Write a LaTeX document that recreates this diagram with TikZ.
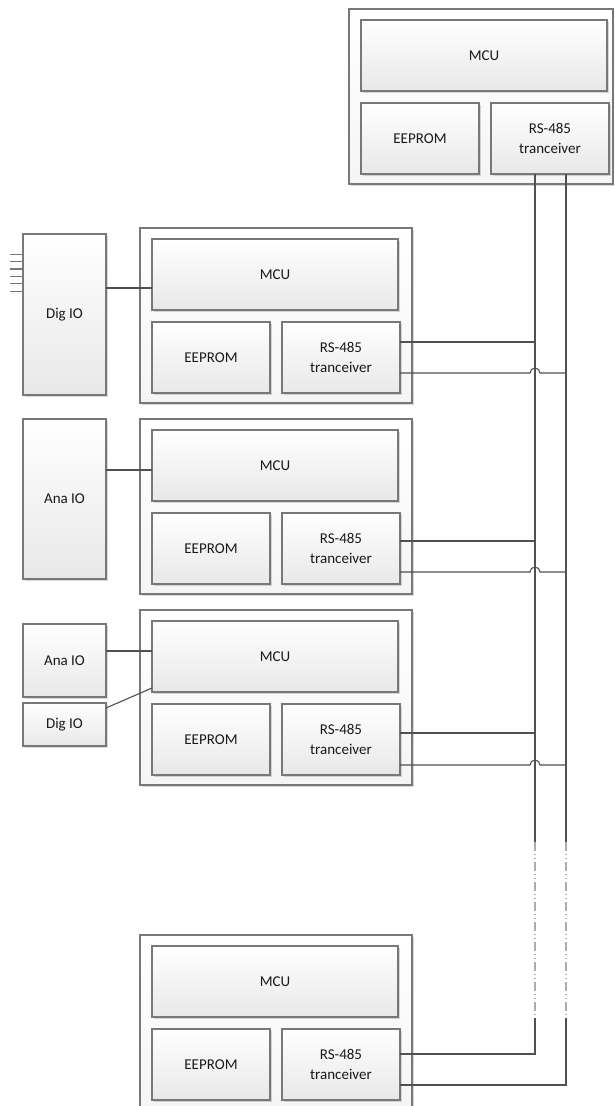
\documentclass[tikz,border=0pt]{standalone}
\usepackage{fontspec}
\setmainfont{Carlito}
\usetikzlibrary{shadows,calc}
\definecolor{boxline}{RGB}{120,120,120}
\definecolor{wirec}{RGB}{80,80,80}
\definecolor{txt}{RGB}{25,25,25}
\tikzset{
  blk/.style={draw=boxline, line width=1.2pt, rectangle, top color=white, bottom color=gray!18,
    drop shadow={shadow xshift=1.5pt, shadow yshift=-1.5pt, opacity=.3},
    anchor=north west, inner sep=0pt, outer sep=0pt, font=\fontsize{15}{19.5}\selectfont, text=txt, align=center},
  frm/.style={draw=boxline, line width=1.1pt, rectangle, top color=white, bottom color=gray!8,
    drop shadow={shadow xshift=1.5pt, shadow yshift=-1.5pt, opacity=.3},
    anchor=north west, inner sep=0pt, outer sep=0pt},
  wire/.style={draw=wirec, line width=1.1pt},
  pin/.style={draw=boxline, line width=1.1pt},
  dashwire/.style={draw=gray!65, line width=1.1pt, dash pattern=on 9pt off 3pt on 1pt off 3pt on 1pt off 3pt},
}
\newcommand\drawmodule[4]{%
  \node[frm, minimum width=#4, minimum height=175] (out#1) at (#2,#3) {};
  \node[blk, minimum width=246, minimum height=71] (mcu#1) at (#2+12,#3+11) {MCU};
  \node[blk, minimum width=118, minimum height=71] (ee#1) at (#2+12,#3+94) {EEPROM};
  \node[blk, minimum width=118, minimum height=71] (rs#1) at (#2+142,#3+94) {RS-485\\tranceiver};
}
\begin{document}
\begin{tikzpicture}[x=1pt,y=-1pt]
\useasboundingbox (0,0) rectangle (614,1106);
\clip (0,0) rectangle (614,1106);
\fill[white] (0,0) rectangle (614,1106);

% modules
\drawmodule{1}{349}{9}{264}
\drawmodule{2}{140}{228}{272}
\drawmodule{3}{140}{419}{272}
\drawmodule{4}{140}{610}{272}
\drawmodule{5}{140}{935}{272}

% side boxes
\node[blk, minimum width=83, minimum height=161] (dig2) at (23,234) {Dig IO};
\node[blk, minimum width=83, minimum height=160] (ana3) at (23,419) {Ana IO};
\node[blk, minimum width=83, minimum height=73] (ana4) at (23,624) {Ana IO};
\node[blk, minimum width=83, minimum height=43] (dig4) at (23,703) {Dig IO};

% pins of Dig IO
\foreach \k in {0,...,5}
  \draw[pin] ($(dig2.north west)+(0,20.3+7.35*\k)$) -- ++(-13,0);

% side connections
\draw[wire] (dig2.east |- 0,288) -- (mcu2.west |- 0,288);
\draw[wire] (ana3.east |- 0,470) -- (mcu3.west |- 0,470);
\draw[wire] (ana4.east |- 0,651) -- (mcu4.west |- 0,651);
\draw[wire] ($(dig4.north east)+(0,5)$) -- ($(mcu4.south west)+(0,-4)$);

% bus coordinates
\coordinate (bL) at (535,0);
\coordinate (bR) at (566,0);
\coordinate (brk) at (0,842);
\coordinate (brk2) at (0,1018);

% bus verticals
\draw[wire] (bL |- rs1.south) -- (bL |- brk);
\draw[wire] (bR |- rs1.south) -- (bR |- brk);
\draw[dashwire] (bL |- brk) -- (bL |- brk2);
\draw[dashwire] (bR |- brk) -- (bR |- brk2);
\draw[wire] (bL |- brk2) -- (bL |- 0,1054) -- (rs5.east |- 0,1054);
\draw[wire] (bR |- brk2) -- (bR |- 0,1085) -- (rs5.east |- 0,1085);

% module taps
\foreach \m/\ya/\yb in {2/342/373, 3/541/572, 4/733/765}{
  \draw[wire] (rs\m.east |- 0,\ya) -- (bL |- 0,\ya);
  \draw[wire] (rs\m.east |- 0,\yb) -- ($(bL |- 0,\yb)+(-5,0)$) arc (180:360:5) -- (bR |- 0,\yb);
}
\end{tikzpicture}
\end{document}
